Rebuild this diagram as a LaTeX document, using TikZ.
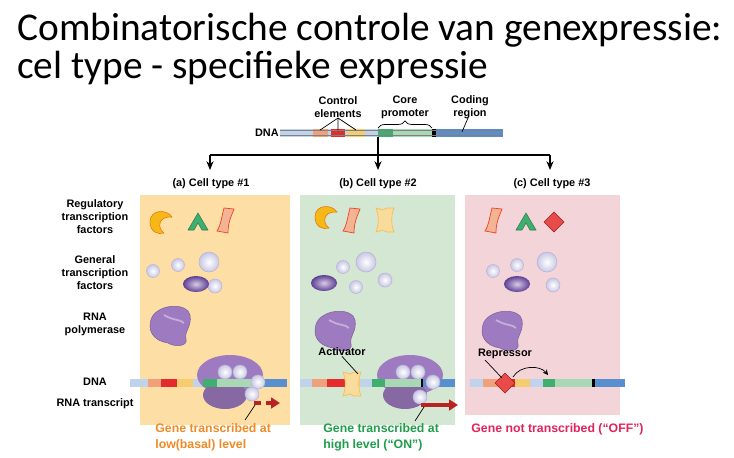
\documentclass[tikz,border=0pt]{standalone}
\usepackage{fontspec}
\setmainfont{Carlito}
\newfontfamily\lab{Liberation Sans}
\usetikzlibrary{arrows.meta,decorations.pathreplacing}
\definecolor{lb}{HTML}{BFD3EC}
\definecolor{orn}{HTML}{F0A07A}
\definecolor{rd}{HTML}{E52B2B}
\definecolor{ylw}{HTML}{F6CC70}
\definecolor{gr}{HTML}{3FAE6E}
\definecolor{lgr}{HTML}{A8D8B4}
\definecolor{bl}{HTML}{5A8FCF}
\definecolor{pOr}{HTML}{FDDFA6}
\definecolor{pGr}{HTML}{D3E7D2}
\definecolor{pPk}{HTML}{F3D4D8}
\definecolor{purp}{HTML}{9E7BC0}
\definecolor{dpurp}{HTML}{5C3F93}
\definecolor{sph}{HTML}{C8C8E4}
\definecolor{crs}{HTML}{F5B818}
\definecolor{txOr}{HTML}{F08A24}
\definecolor{txGr}{HTML}{1E9E4A}
\definecolor{txPk}{HTML}{E0245A}
\tikzset{
  lbl/.style={font=\lab\bfseries\fontsize{6.2}{7.4}\selectfont,align=center,inner sep=0pt},
  ball/.style={inner color=white,outer color=sph,draw=sph!70!purp,line width=0.3pt},
  seg/.style={line width=4.5pt},
  bot/.style={font=\lab\bfseries\fontsize{7}{9}\selectfont,align=left,inner sep=0pt,anchor=north west},
}
\newcommand\mypoly[2]{%
  \fill[purp,draw=purp!80!black,line width=0.3pt] (#1-18,#2-8) .. controls (#1-10,#2-22) and (#1+18,#2-22) .. (#1+20,#2-10)
   .. controls (#1+22,#2+2) and (#1+14,#2+6) .. (#1+16,#2+14)
   .. controls (#1+18,#2+22) and (#1+4,#2+22) .. (#1-2,#2+18)
   .. controls (#1-16,#2+16) and (#1-24,#2+6) .. cycle;
  \draw[purp!60!white,line width=1pt] (#1-6,#2-10) .. controls (#1+4,#2-4) and (#1+10,#2-6) .. (#1+14,#2-2);
}
\newcommand\mycres[2]{%
  \fill[crs,draw=orange!90!black,line width=0.3pt] (#1+11,#2-5) .. controls (#1+6,#2-13) and (#1-11,#2-13) .. (#1-11,#2)
   .. controls (#1-11,#2+10) and (#1-3,#2+13) .. (#1+3,#2+11) .. controls (#1-4,#2+6) and (#1-3,#2-6) .. (#1+11,#2-5) -- cycle;
}
\newcommand\mytri[2]{%
  \fill[gr,draw=gr!70!black,line width=0.3pt] (#1-10,#2+8) -- (#1,#2-9) -- (#1+10,#2+8) -- (#1+4,#2+8) -- (#1,#2+1) -- (#1-4,#2+8) -- cycle;
}
\newcommand\mypink[2]{%
  \fill[orn!80!white,draw=rd!70!orange,line width=0.4pt] (#1-2,#2-13) -- (#1+8,#2-12) .. controls (#1+6,#2-6) and (#1+2,#2) .. (#1+2,#2+12)
   -- (#1-9,#2+10) .. controls (#1-5,#2+4) and (#1-4,#2-6) .. cycle;
}
\newcommand\myyel[2]{%
  \fill[ylw!70!white,draw=ylw!80!orange,line width=0.4pt] (#1-9,#2-12) -- (#1-2,#2-10) -- (#1+2,#2-12) -- (#1+9,#2-12)
   .. controls (#1+6,#2-4) and (#1+6,#2+4) .. (#1+9,#2+12) -- (#1+2,#2+12) -- (#1-2,#2+10) -- (#1-9,#2+12)
   .. controls (#1-6,#2+4) and (#1-6,#2-4) .. cycle;
}
\newcommand\mydiam[2]{%
  \fill[rd!85!white,draw=rd!70!black,line width=0.3pt] (#1,#2-10) -- (#1+10,#2) -- (#1,#2+10) -- (#1-10,#2) -- cycle;
}
\newcommand\myell[2]{%
  \shade[inner color=purp!40!white,outer color=dpurp] (#1,#2) ellipse (13 and 8);
}
\begin{document}
\begin{tikzpicture}[x=0.02cm,y=-0.02cm]
\useasboundingbox (0,0) rectangle (734,457);
\fill[white] (0,0) rectangle (734,457);
% title
\node[anchor=west,inner sep=0pt,font=\fontsize{22.4}{26}\selectfont] (t1) at (17,30) {Combinatorische controle van genexpressie:};
\node[anchor=west,inner sep=0pt,font=\fontsize{22.4}{26}\selectfont] (t2) at (17,68) {cel type - specifieke expressie};
% panels
\fill[pOr] (140,195) rectangle (290,425);
\fill[pGr] (300,195) rectangle (455,425);
\fill[pPk] (465,195) rectangle (620,415);
% top DNA
\node[lbl,anchor=east] (dna0) at (279,133) {DNA};
\foreach \a/\b/\c in {280/313/lb,313/328/orn,328/331/lb,331/345/rd,345/347/lb,347/365/ylw,365/378/lb,378/393/gr,393/432/lgr,432/436/black,436/503/bl}
  \draw[seg,\c] (\a,133) -- (\b,133);
\draw[line width=0.3pt,gray] (280,130.7) -- (503,130.7) (280,135.3) -- (503,135.3);
\node[lbl] (ce) at (338,107) {Control\\elements};
\node[lbl] (cp) at (405,107) {Core\\promoter};
\node[lbl] (cr) at (470,107) {Coding\\region};
\coordinate (cet) at (338,118);
\draw[line width=0.4pt] (cet) -- (320,130) (cet) -- (338,130) (cet) -- (356,130);
\draw[decorate,decoration={brace,amplitude=4pt},line width=0.4pt] (378,128) -- (432,128);
\draw[line width=0.4pt] (468,118) -- (462,132);
% tree
\draw[line width=0.6pt] (378,137) -- (378,155) (210,155) -- (550,155);
\foreach \x in {210,378,550} \draw[line width=0.6pt,-{Stealth[length=5pt,width=4pt]}] (\x,155) -- (\x,170);
\node[lbl] (ha) at (211,184) {(a) Cell type \#1};
\node[lbl] (hb) at (378,184) {(b) Cell type \#2};
\node[lbl] (hc) at (552,184) {(c) Cell type \#3};
% left labels
\node[lbl] (l1) at (95,217) {Regulatory\\transcription\\factors};
\node[lbl] (l2) at (95,273) {General\\transcription\\factors};
\node[lbl] (l3) at (95,324) {RNA\\polymerase};
\node[lbl] (l4) at (95,382) {DNA};
\node[lbl] (l5) at (95,404) {RNA transcript};
% factors
\mycres{161}{222}\mytri{198}{222}\mypink{226}{221}
\mycres{326}{217}\mypink{352}{221}\myyel{385}{220}
\mypink{494}{221}\mytri{526}{222}\mydiam{554}{222}
\foreach \x/\y/\r in {153/271/6.5,178/265/6.5,209/262/10,215/286/7,
  343/267/6.5,366/262/10,356/287/6.5,385/280/7,
  493/271/6.5,517/265/6.5,547/262/10,553/285/7}
  \shade[ball] (\x,\y) circle (\r);
\myell{196}{284}\myell{324}{283}\myell{517}{284}
\mypoly{170}{325}\mypoly{335}{330}\mypoly{502}{330}
% panel a DNA
\foreach \a/\b/\c in {130/148/lb,148/161/orn,161/177/rd,177/193/ylw,193/203/lb,203/217/gr,217/255/lgr,255/257/black,257/287/bl}
  \draw[seg,\c] (\a,383) -- (\b,383);
\fill[purp] (230,375) ellipse (33 and 20);
\fill[purp!85!black] (225,395) ellipse (22 and 14);
\foreach \a/\b/\c in {203/217/gr,217/255/lgr,255/257/black,257/287/bl}
  \draw[seg,\c] (\a,383) -- (\b,383);
\foreach \x/\y in {225/372,240/372,258/382,252/394}
  \shade[ball] (\x,\y) circle (7);
\draw[line width=2.5pt,rd!80!black,dash pattern=on 4pt off 3pt] (254,403) -- (272,403);
\draw[-{Triangle[length=5pt,width=6pt]},rd!80!black,line width=2.5pt] (272,403) -- (280,403);
\draw[line width=0.4pt] (255,405) -- (245,420);
\node[bot,text=txOr] (ga) at (155,423) {Gene transcribed at\\low(basal) level};
% panel b DNA
\foreach \a/\b/\c in {300/312/lb,312/327/orn,327/345/rd,345/360/ylw,360/372/lb,372/385/gr,385/421/lgr,421/423/black,423/455/bl}
  \draw[seg,\c] (\a,383) -- (\b,383);
\fill[purp] (410,375) ellipse (33 and 20);
\fill[purp!85!black] (405,395) ellipse (22 and 14);
\foreach \a/\b/\c in {372/385/gr,385/421/lgr,421/423/black,423/455/bl}
  \draw[seg,\c] (\a,383) -- (\b,383);
\foreach \x/\y in {403/372,418/372,433/382,420/397}
  \shade[ball] (\x,\y) circle (7);
\myyel{352}{384}
\draw[line width=2.5pt,rd!80!black] (421,405) -- (450,405);
\draw[-{Triangle[length=5pt,width=6pt]},rd!80!black,line width=2.5pt] (450,405) -- (458,405);
\draw[line width=0.4pt] (424,407) -- (415,421);
\node[lbl] (act) at (342,352) {Activator};
\draw[line width=0.4pt] (act.south) -- (358,374);
\node[bot,text=txGr] (gb) at (323,423) {Gene transcribed at\\high level (“ON”)};
% panel c DNA
\foreach \a/\b/\c in {470/483/lb,483/498/orn,498/515/rd,515/530/ylw,530/543/lb,543/555/gr,555/592/lgr,592/595/black,595/625/bl}
  \draw[seg,\c] (\a,383) -- (\b,383);
\mydiam{505}{383}
\node[lbl] (rep) at (505,354) {Repressor};
\draw[line width=0.4pt] (485,360) -- (502,378);
\draw[line width=0.4pt,-{Stealth[length=3pt,width=3pt]}] (513,377) .. controls (520,365) and (540,365) .. (548,375);
\node[bot,text=txPk] (gc) at (471,423) {Gene not transcribed (“OFF”)};
\end{tikzpicture}
\end{document}
